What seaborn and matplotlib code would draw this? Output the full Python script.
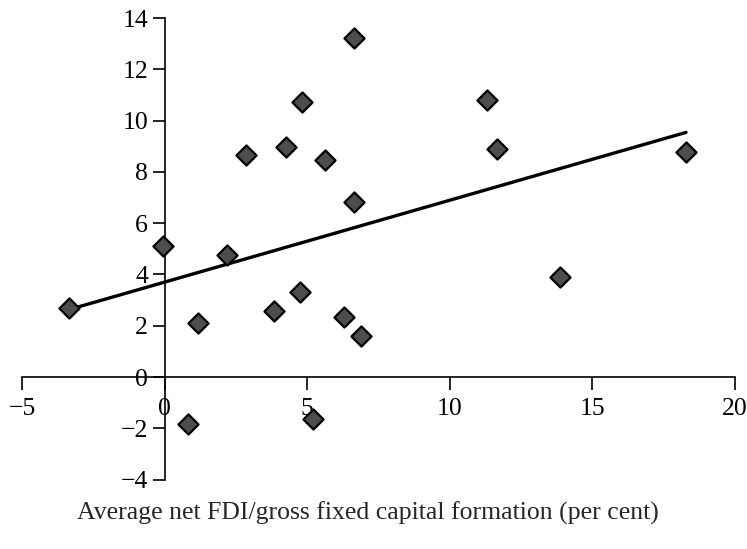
import matplotlib
matplotlib.use("Agg")
import matplotlib.pyplot as plt
import pandas as pd
import seaborn as sns

# Average net FDI / gross fixed capital formation (per cent)
fdi_share = [-3.37, -0.05, 1.18, 0.83, 2.18, 2.87, 4.25, 4.81, 5.61, 6.64,
             6.64, 3.84, 4.74, 5.20, 6.29, 6.88, 11.32, 11.67, 13.86, 18.28]
# vertical values
growth = [2.70, 5.10, 2.10, -1.84, 4.77, 8.64, 8.97, 10.73, 8.48, 13.23,
          6.81, 2.58, 3.33, -1.65, 2.36, 1.60, 10.82, 8.90, 3.92, 8.78]

x_ticks = [-5, 0, 5, 10, 15, 20]
y_ticks = [-4, -2, 0, 2, 4, 6, 8, 10, 12, 14]
x_label = "Average net FDI/gross fixed capital formation (per cent)"


def main():
    df = pd.DataFrame({"fdi": fdi_share, "growth": growth})

    sns.set_style("white")
    plt.rcParams["font.family"] = ["Liberation Serif", "DejaVu Serif"]

    fig = plt.figure(figsize=(7.47, 5.49), dpi=100)
    ax = fig.add_axes([0.0295, 0.1264, 0.9545, 0.8408])

    # fitted line, then the diamonds on top of it
    sns.regplot(data=df, x="fdi", y="growth", ax=ax, scatter=False, ci=None,
                truncate=True, color="black", line_kws={"linewidth": 2.4, "zorder": 2})
    sns.scatterplot(data=df, x="fdi", y="growth", ax=ax, marker="D", s=105,
                    color="#4d4d4d", edgecolor="black", linewidth=1.6, zorder=3)

    ax.set_xlim(-5, 20)
    ax.set_ylim(-4, 14)
    ax.set_xticks(x_ticks)
    ax.set_yticks(y_ticks)

    # axes cross at the origin
    ax.spines["left"].set_position(("data", 0))
    ax.spines["bottom"].set_position(("data", 0))
    ax.spines["top"].set_visible(False)
    ax.spines["right"].set_visible(False)
    for side in ["left", "bottom"]:
        ax.spines[side].set_color("black")
        ax.spines[side].set_linewidth(1.2)

    ax.tick_params(axis="both", direction="out", length=9, width=1.2,
                   colors="black", labelsize=18.5, pad=3,
                   bottom=True, left=True)
    ax.tick_params(axis="x", pad=6)
    for lbl in ax.get_yticklabels():
        lbl.set_bbox({"facecolor": "white", "edgecolor": "none", "pad": 1})

    ax.set_xlabel(x_label, fontsize=18.5)
    ax.xaxis.set_label_coords(0.485, -0.048)
    ax.set_ylabel("")

    plt.savefig("out.png", dpi=100)


if __name__ == "__main__":
    main()
